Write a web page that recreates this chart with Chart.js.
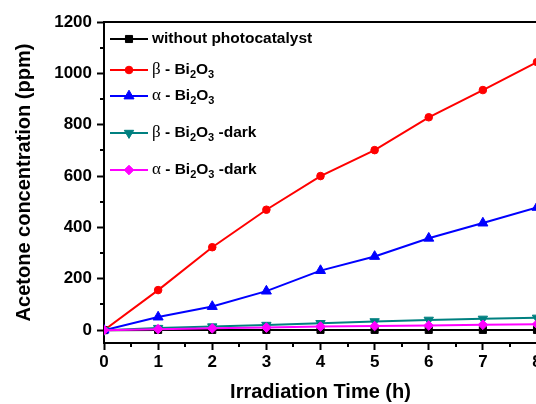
<!DOCTYPE html>
<html>
<head>
<meta charset="utf-8">
<script src="https://cdn.jsdelivr.net/npm/chart.js@4.4.1/dist/chart.umd.min.js"></script>
<style>
  html, body { margin: 0; padding: 0; background: #fff; overflow: hidden; }
  #wrap { width: 536px; height: 404px; overflow: hidden; }
  canvas { display: block; }
</style>
</head>
<body>
<div id="wrap"><canvas id="c" width="560" height="404"></canvas></div>
<script>
// irradiation time (h)
const HOURS = [0, 1, 2, 3, 4, 5, 6, 7, 8];

// acetone concentration (ppm)
const NO_CATALYST = [0, 1, 1, 1, 1, 1, 1, 1, 1];
const BETA = [0, 156, 323, 469, 600, 701, 829, 935, 1044];
const ALPHA = [0, 51, 92, 152, 232, 287, 358, 417, 478];
const BETA_DARK = [0, 8, 14, 20, 27, 34, 40, 44, 48];
const ALPHA_DARK = [0, 4, 7, 10, 14, 16, 18, 21, 23];

const SERIES_NAMES = [
  "without photocatalyst",
  "β - Bi_2O_3",
  "α - Bi_2O_3",
  "β - Bi_2O_3 -dark",
  "α - Bi_2O_3 -dark"
];

const Y_TICKS = [0, 200, 400, 600, 800, 1000, 1200];
const Y_MINOR = [100, 300, 500, 700, 900, 1100];
const X_TICKS = [0, 1, 2, 3, 4, 5, 6, 7, 8];
const X_MINOR = [0.5, 1.5, 2.5, 3.5, 4.5, 5.5, 6.5, 7.5];

const SANS = '"Liberation Sans", Arial, sans-serif';
const SERIF = '"Liberation Serif", "Times New Roman", serif';

const STYLES = [
  { color: "#000000", pointStyle: "rect", radius: 5, rotation: 0 },
  { color: "#ff0000", pointStyle: "circle", radius: 3.8, rotation: 0 },
  { color: "#0000ff", pointStyle: "triangle", radius: 5.8, rotation: 0 },
  { color: "#008080", pointStyle: "triangle", radius: 5.4, rotation: 180 },
  { color: "#ff00ff", pointStyle: "rectRot", radius: 4.8, rotation: 0 }
];
const SERIES = [NO_CATALYST, BETA, ALPHA, BETA_DARK, ALPHA_DARK];
const LEGEND_ROWS = [39, 70, 96, 133, 170];

Chart.defaults.font.family = SANS;
Chart.defaults.font.weight = "bold";
Chart.defaults.color = "#000";

// draws "β - Bi_2O_3" with greek in serif and _n as subscript
function drawRichLabel(ctx, label, x, y) {
  let cx = x;
  const parts = label.split(/_(\d)/);
  parts.forEach((part, i) => {
    if (i % 2) {
      ctx.font = "bold 11px " + SANS;
      ctx.fillText(part, cx, y + 5);
      cx += ctx.measureText(part).width;
      return;
    }
    part.split(/([αβ])/).forEach((seg) => {
      if (!seg) return;
      ctx.font = /[αβ]/.test(seg) ? "17px " + SERIF : "bold 15.5px " + SANS;
      ctx.fillText(seg, cx, y);
      cx += ctx.measureText(seg).width;
    });
  });
}

const framePlugin = {
  id: "frame",
  afterDraw(chart) {
    const { ctx, chartArea } = chart;
    const xs = chart.scales.x;
    const ys = chart.scales.y;
    ctx.save();
    ctx.strokeStyle = "#000";
    ctx.lineWidth = 2;
    ctx.beginPath();
    ctx.moveTo(chartArea.left - 1, chartArea.top);
    ctx.lineTo(chartArea.right + 1, chartArea.top);
    ctx.stroke();
    ctx.beginPath();
    Y_MINOR.forEach((v) => {
      const py = Math.round(ys.getPixelForValue(v));
      ctx.moveTo(chartArea.left - 1, py);
      ctx.lineTo(chartArea.left - 4, py);
    });
    X_MINOR.forEach((v) => {
      const px = Math.round(xs.getPixelForValue(v));
      ctx.moveTo(px, chartArea.bottom + 1);
      ctx.lineTo(px, chartArea.bottom + 4);
    });
    ctx.stroke();

    // legend: line - marker - line, then label
    ctx.textBaseline = "middle";
    SERIES_NAMES.forEach((name, i) => {
      const st = STYLES[i];
      const y = LEGEND_ROWS[i];
      ctx.strokeStyle = st.color;
      ctx.fillStyle = st.color;
      ctx.lineWidth = 2;
      ctx.beginPath();
      ctx.moveTo(110, y);
      ctx.lineTo(148, y);
      ctx.stroke();
      ctx.lineWidth = 1;
      Chart.helpers.drawPoint(ctx, {
        pointStyle: st.pointStyle,
        radius: st.radius,
        rotation: st.rotation,
        borderWidth: 1
      }, 129, y);
      ctx.fillStyle = "#000";
      drawRichLabel(ctx, name, 152, y);
    });
    ctx.restore();
  }
};

const datasets = SERIES.map((values, i) => ({
  label: SERIES_NAMES[i],
  data: values,
  borderColor: STYLES[i].color,
  backgroundColor: STYLES[i].color,
  borderWidth: 2,
  pointStyle: STYLES[i].pointStyle,
  pointRadius: STYLES[i].radius,
  pointRotation: STYLES[i].rotation,
  pointBorderWidth: 1,
  tension: 0,
  order: SERIES.length - i
}));

new Chart(document.getElementById("c"), {
  type: "line",
  data: { labels: HOURS, datasets },
  options: {
    responsive: false,
    animation: false,
    devicePixelRatio: 1,
    layout: { padding: { top: 22, right: 23, bottom: 0, left: 0 } },
    plugins: {
      legend: { display: false },
      tooltip: { enabled: false }
    },
    scales: {
      x: {
        type: "linear",
        min: 0,
        max: 8,
        afterBuildTicks: (s) => { s.ticks = X_TICKS.map((v) => ({ value: v })); },
        afterFit: (s) => { s.height = 61; },
        grid: { drawOnChartArea: false, tickLength: 7, tickWidth: 2, color: "#000" },
        border: { display: true, width: 2, color: "#000" },
        ticks: { padding: 2, font: { size: 17, weight: "bold" }, maxRotation: 0, callback: (v) => String(v) },
        title: {
          display: true,
          text: "Irradiation Time (h)",
          font: { size: 20, weight: "bold" },
          padding: { top: 0, bottom: 0 }
        }
      },
      y: {
        min: -50,
        max: 1200,
        afterBuildTicks: (s) => { s.ticks = Y_TICKS.map((v) => ({ value: v })); },
        afterFit: (s) => { s.width = 104; },
        grid: { drawOnChartArea: false, tickLength: 7, tickWidth: 2, color: "#000" },
        border: { display: true, width: 2, color: "#000" },
        ticks: { padding: 5, font: { size: 17, weight: "bold" }, callback: (v) => String(v) },
        title: {
          display: true,
          text: "Acetone concentration (ppm)",
          font: { size: 20, weight: "bold" },
          padding: { top: 12, bottom: 0 }
        }
      }
    }
  },
  plugins: [framePlugin]
});
</script>
</body>
</html>
